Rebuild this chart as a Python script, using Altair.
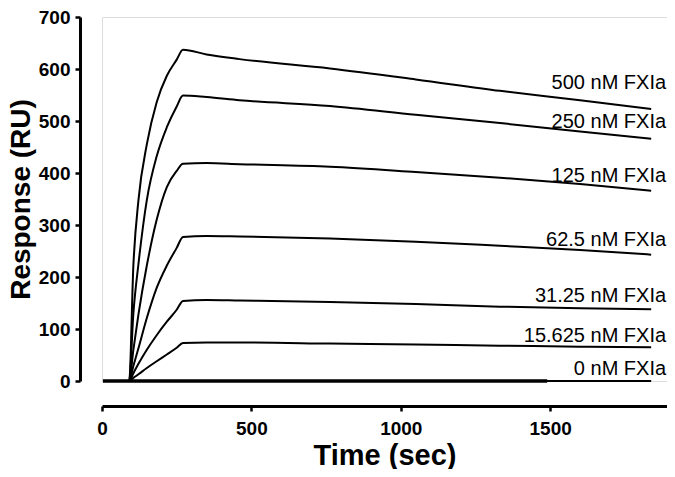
import altair as alt
import pandas as pd

# Time points (sec)
time_sec = [5, 91, 105, 122, 150, 183, 217, 250, 271, 350, 460, 763, 1050, 1332, 1600, 1838]

# Responses (RU) for each FXIa concentration
r500 = [0, 0, 222, 348, 455, 536, 587, 618, 637, 628, 619, 601, 580, 558, 540, 523]
r250 = [0, 0, 130, 225, 348, 432, 488, 528, 549, 546, 540, 529, 512, 496, 480, 466]
r125 = [0, 0, 60, 128, 222, 310, 373, 404, 418, 419, 417, 412, 402, 391, 379, 366]
r62 = [0, 0, 29, 63, 121, 179, 222, 256, 277, 279, 278, 274, 268, 260, 252, 243]
r31 = [0, 0, 15, 33, 60, 88, 114, 137, 154, 156, 155, 152, 148, 143, 140, 138]
r15 = [0, 0, 6, 13, 25, 38, 51, 64, 73, 74, 74, 72, 70, 68, 66, 65]
r0 = [0, 0, 0, 0, 0, 0, 0, 0, 0, 0, 0, 0, 0, 0, 0, 0]

series_names = ["500 nM FXIa", "250 nM FXIa", "125 nM FXIa", "62.5 nM FXIa",
                "31.25 nM FXIa", "15.625 nM FXIa", "0 nM FXIa"]
series_values = [r500, r250, r125, r62, r31, r15, r0]

# Label anchor positions (data units)
label_time = [1888, 1888, 1888, 1888, 1888, 1888, 1888]
label_resp = [562, 487, 383, 260, 151, 75, 11]

# Thick overlapping baseline segment
base_time = [3, 1490]
base_resp = [0, 0]

rows = []
for name, vals in zip(series_names, series_values):
    for t, v in zip(time_sec, vals):
        rows.append({"series": name, "t": t, "r": v})
df = pd.DataFrame(rows)
df_lab = pd.DataFrame({"label": series_names, "t": label_time, "r": label_resp})
df_base = pd.DataFrame({"t": base_time, "r": base_resp})

FONT = "Liberation Sans"

xscale = alt.Scale(domain=[0, 1891], nice=False, zero=False)
yscale = alt.Scale(domain=[0, 700], nice=False)

xaxis = alt.Axis(values=[0, 500, 1000, 1500], format="d", offset=25, tickSize=5, tickWidth=2.5,
                 tickColor="black", domainWidth=3, domainColor="black",
                 labelFont=FONT, labelFontWeight="bold", labelFontSize=19,
                 labelColor="black", labelPadding=8, labelFlush=False,
                 title="Time (sec)", titleFont=FONT, titleFontWeight="bold",
                 titleFontSize=29, titleColor="black", titlePadding=3, grid=False)
yaxis = alt.Axis(values=[0, 100, 200, 300, 400, 500, 600, 700], format="d", offset=22, tickSize=5,
                 tickWidth=2.5, tickColor="black", domainWidth=3, domainColor="black",
                 labelFont=FONT, labelFontWeight="bold", labelFontSize=19,
                 labelColor="black", labelPadding=5, labelFlush=False,
                 title="Response (RU)", titleFont=FONT, titleFontWeight="bold",
                 titleFontSize=28, titleColor="black", titlePadding=3, grid=False)

lines = alt.Chart(df).mark_line(color="black", strokeWidth=2, interpolate="monotone").encode(
    x=alt.X("t:Q", scale=xscale, axis=xaxis),
    y=alt.Y("r:Q", scale=yscale, axis=yaxis),
    detail="series:N",
)

base = alt.Chart(df_base).mark_line(color="black", strokeWidth=3.5).encode(
    x=alt.X("t:Q", scale=xscale),
    y=alt.Y("r:Q", scale=yscale),
)

labels = alt.Chart(df_lab).mark_text(align="right", baseline="alphabetic", font=FONT,
                                     fontSize=20, color="black").encode(
    x=alt.X("t:Q", scale=xscale),
    y=alt.Y("r:Q", scale=yscale),
    text="label:N",
)

chart = alt.layer(base, lines, labels).properties(
    width=565, height=364,
    autosize=alt.AutoSizeParams(type="none"),
    padding={"left": 94, "top": 9, "right": 0, "bottom": 88},
).configure_view(stroke=None).configure(background="white")

chart.save("out.html", embed_options={"renderer": "svg", "actions": False})
